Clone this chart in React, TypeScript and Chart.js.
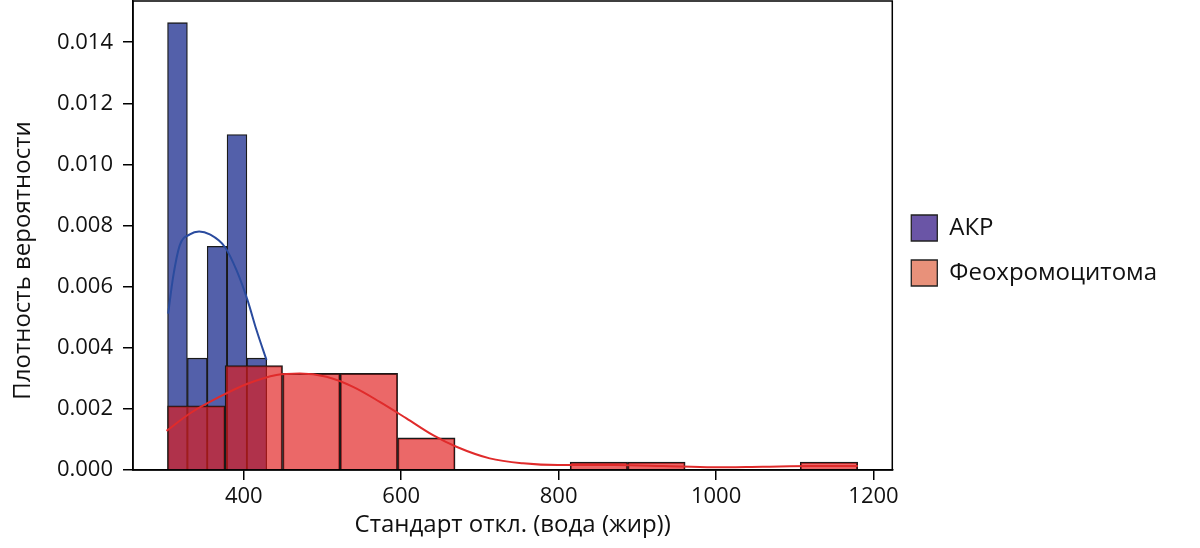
import { Chart, registerables } from "chart.js";
import { useEffect, useRef } from "react";

Chart.register(...registerables);

const FONT = "'Open Sans', 'DejaVu Sans', sans-serif";

// tick values
const xTicks = [400, 600, 800, 1000, 1200];
const yTicks = [0, 0.002, 0.004, 0.006, 0.008, 0.01, 0.012, 0.014];

const seriesNames = ["АКР", "Феохромоцитома"];
const xTitle = "Стандарт откл. (вода (жир))";
const yTitle = "Плотность вероятности";

// histogram bin centres and densities
const akrBins = [315.7, 340.9, 366.1, 391.3, 416.5];
const akrDensity = [0.01464, 0.00366, 0.00732, 0.01098, 0.00366];

const feoBins = [
  339.6, 412.7, 485.8, 558.9, 631.9, 705.0, 778.1, 851.1, 924.2, 997.3, 1070.4,
  1143.4,
];
const feoDensity = [
  0.0021, 0.00342, 0.00316, 0.00316, 0.00105, 0, 0, 0.00026, 0.00026, 0, 0,
  0.00026,
];

// kde curves
const akrKdeX = [303.9, 310.2, 318.7, 331.4, 343.2, 356.8, 375.9, 390.7, 404.7, 416.1, 428.8];
const akrKdeY = [0.00512, 0.00632, 0.00736, 0.00771, 0.00781, 0.00771, 0.0073, 0.00654, 0.00556, 0.00458, 0.0036];

const feoKdeX = [
  301.8, 331.4, 369.5, 405.5, 441.5, 471.1, 505.0, 538.8, 572.7, 606.6, 640.4,
  670.1, 712.4, 754.7, 799.1, 869.0, 932.5, 996.0, 1059.4, 1122.9, 1180.1,
];
const feoKdeY = [
  0.00128, 0.00185, 0.0024, 0.00283, 0.00311, 0.00316, 0.00305, 0.00272,
  0.00223, 0.00169, 0.00114, 0.00076, 0.00038, 0.00022, 0.00016, 0.00016,
  0.00013, 0.00009, 0.00011, 0.00013, 0.00013,
];

const X_MIN = 259.2;
const X_MAX = 1223.9;
const Y_MAX = 0.01535;

const legendColors = ["#6a55a6", "#e8917a"];

const framePlugin = {
  id: "frame",
  afterDatasetsDraw(chart: any) {
    const { ctx, chartArea: a } = chart;
    ctx.save();
    ctx.strokeStyle = "#000";
    ctx.lineWidth = 1.5;
    ctx.strokeRect(a.left, a.top, a.width, a.height);
    ctx.restore();
  },
};

const yTitlePlugin = {
  id: "yTitle",
  afterDraw(chart: any) {
    const { ctx, chartArea } = chart;
    ctx.save();
    ctx.translate(23, (chartArea.top + chartArea.bottom) / 2 + 25);
    ctx.rotate(-Math.PI / 2);
    ctx.font = `24px ${FONT}`;
    ctx.fillStyle = "#111";
    ctx.textAlign = "center";
    ctx.textBaseline = "middle";
    ctx.fillText(yTitle, 0, 0);
    ctx.restore();
  },
};

const App = () => {
  const chartRef = useRef<Chart | null>(null);
  const canvasRef = useRef<HTMLCanvasElement | null>(null);

  useEffect(() => {
    if (!canvasRef.current) return;
    if (chartRef.current) chartRef.current.destroy();
    const ctx = canvasRef.current.getContext("2d");
    if (!ctx) return;

    chartRef.current = new Chart(ctx, {
      type: "bar",
      data: {
        datasets: [
          {
            type: "line",
            label: seriesNames[1] + " KDE",
            data: feoKdeX.map((x, i) => ({ x, y: feoKdeY[i] })),
            borderColor: "#e02b2b",
            borderWidth: 2,
            pointRadius: 0,
            cubicInterpolationMode: "monotone",
            order: 0,
          },
          {
            type: "line",
            label: seriesNames[0] + " KDE",
            data: akrKdeX.map((x, i) => ({ x, y: akrKdeY[i] })),
            borderColor: "#2a4b9e",
            borderWidth: 2,
            pointRadius: 0,
            cubicInterpolationMode: "monotone",
            order: 1,
          },
          {
            type: "bar",
            label: seriesNames[1],
            data: feoBins.map((x, i) => ({ x, y: feoDensity[i] })),
            xAxisID: "x2",
            backgroundColor: "rgba(225, 26, 26, 0.66)",
            borderColor: "#1a1a1a",
            borderWidth: 1.3,
            barPercentage: 1,
            categoryPercentage: 1,
            grouped: false,
            order: 2,
          },
          {
            type: "bar",
            label: seriesNames[0],
            data: akrBins.map((x, i) => ({ x, y: akrDensity[i] })),
            backgroundColor: "#5360aa",
            borderColor: "#1a1a1a",
            borderWidth: 1.3,
            barPercentage: 1,
            categoryPercentage: 1,
            grouped: false,
            order: 3,
          },
        ] as any,
      },
      options: {
        animation: false,
        responsive: true,
        maintainAspectRatio: false,
        layout: { padding: { top: 1, right: 33, bottom: 0, left: 0 } },
        scales: {
          x: {
            type: "linear",
            min: X_MIN,
            max: X_MAX,
            offset: false,
            afterBuildTicks: (s: any) => {
              s.ticks = xTicks.map((v) => ({ value: v }));
            },
            afterFit: (s: any) => {
              s.height = 78;
            },
            grid: {
              drawOnChartArea: false,
              offset: false,
              tickLength: 10,
              color: "#000",
              lineWidth: 1.5,
            },
            border: { color: "#000", width: 1.5 },
            ticks: {
              font: { family: FONT, size: 22 },
              color: "#111",
              padding: 4,
              maxRotation: 0,
              autoSkip: false,
              callback: (v: any) => String(v),
            },
            title: {
              display: true,
              text: xTitle,
              font: { family: FONT, size: 24 },
              color: "#111",
              padding: { top: 0, bottom: 8 },
            },
          },
          x2: {
            type: "linear",
            display: false,
            min: X_MIN,
            max: X_MAX,
            offset: false,
          },
          y: {
            type: "linear",
            min: 0,
            max: Y_MAX,
            afterBuildTicks: (s: any) => {
              s.ticks = yTicks.map((v) => ({ value: v }));
            },
            afterFit: (s: any) => {
              s.width = 133;
              s.paddingTop = 0;
            },
            grid: {
              drawOnChartArea: false,
              tickLength: 10,
              color: "#000",
              lineWidth: 1.5,
            },
            border: { color: "#000", width: 1.5 },
            ticks: {
              font: { family: FONT, size: 22 },
              color: "#111",
              padding: 10,
              callback: (v: any) => Number(v).toFixed(3),
            },
          },
        },
        plugins: {
          legend: {
            position: "right",
            fullSize: false,
            title: { display: true, text: " ", font: { size: 10 }, padding: 9 },
            labels: {
              font: { family: FONT, size: 24 },
              color: "#111",
              boxWidth: 26,
              boxHeight: 26,
              padding: 19,
              generateLabels: () =>
                seriesNames.map((name, i) => ({
                  text: name,
                  fillStyle: legendColors[i],
                  strokeStyle: "#222",
                  lineWidth: 1.3,
                  hidden: false,
                  datasetIndex: i,
                  fontColor: "#111",
                })),
            },
          },
          tooltip: { enabled: false },
        },
      } as any,
      plugins: [framePlugin, yTitlePlugin],
    });

    return () => {
      if (chartRef.current) {
        chartRef.current.destroy();
        chartRef.current = null;
      }
    };
  }, []);

  return (
    <div
      style={{
        position: "fixed",
        left: 0,
        top: 0,
        width: 1200,
        height: 548,
        background: "#fff",
      }}
    >
      <canvas ref={canvasRef}></canvas>
    </div>
  );
};

export default App;
